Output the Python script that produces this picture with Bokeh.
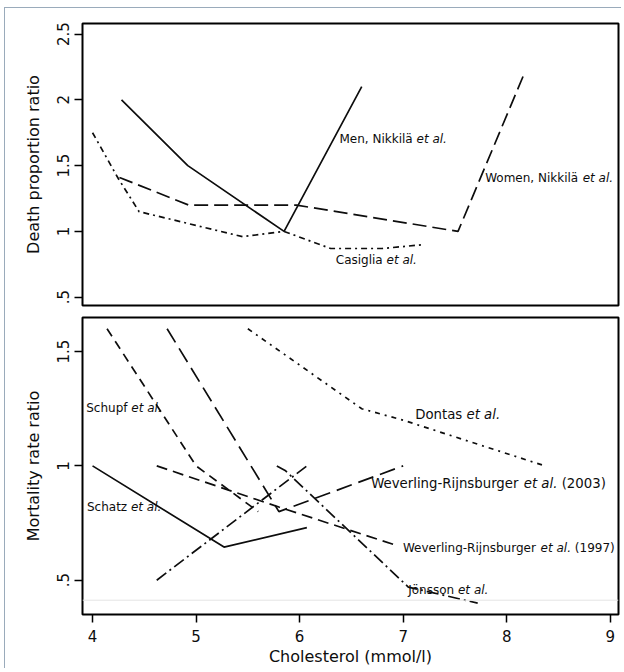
from bokeh.plotting import figure
from bokeh.layouts import column
from bokeh.models import Span, FixedTicker, ColumnDataSource
from bokeh.core.properties import value
from bokeh.embed import file_html
from bokeh.resources import INLINE

# ---------------- data ----------------
x_ticks = [4, 5, 6, 7, 8, 9]
top_y_ticks = [0.5, 1, 1.5, 2, 2.5]
top_y_labels = [".5", "1", "1.5", "2", "2.5"]
bot_y_ticks = [0.5, 1, 1.5]
bot_y_labels = [".5", "1", "1.5"]

men_x = [4.28, 4.92, 5.85, 6.6]
men_y = [2.0, 1.5, 1.0, 2.1]
women_x = [4.26, 4.93, 5.97, 7.53, 8.17]
women_y = [1.41, 1.2, 1.2, 1.0, 2.2]
casiglia_x = [4.0, 4.25, 4.45, 5.45, 5.85, 6.3, 6.8, 7.2]
casiglia_y = [1.75, 1.4, 1.15, 0.96, 1.0, 0.87, 0.87, 0.9]

schatz_x = [4.0, 5.27, 6.07]
schatz_y = [1.0, 0.645, 0.73]
schupf_x = [4.14, 5.0, 5.6]
schupf_y = [1.6, 1.0, 0.8]
wr2003_x = [4.72, 5.8, 7.0]
wr2003_y = [1.6, 0.8, 1.0]
wr1997_x = [4.62, 5.8, 6.95]
wr1997_y = [1.0, 0.82, 0.65]
rising_x = [4.62, 6.07]
rising_y = [0.5, 1.0]
jonsson_x = [5.78, 5.86, 7.05, 7.72]
jonsson_y = [1.0, 0.98, 0.47, 0.40]
dontas_x = [5.5, 6.6, 7.0, 8.37]
dontas_y = [1.6, 1.25, 1.2, 1.0]
ref_line_y = 0.4125

# labels: (normal text, italic text, trailing text, x, y, font px)
top_labels = [
    ("Men, Nikkilä ", "et al.", "", 6.385, 1.704, 12),
    ("Women, Nikkilä ", "et al.", "", 7.792, 1.405, 12),
    ("Casiglia ", "et al.", "", 6.349, 0.780, 12),
]
bot_labels = [
    ("Schupf ", "et al.", "", 3.939, 1.251, 12),
    ("Schatz ", "et al.", "", 3.946, 0.818, 12),
    ("Dontas ", "et al.", "", 7.116, 1.226, 13.3),
    ("Weverling-Rijnsburger ", "et al.", " (2003)", 6.691, 0.923, 13.3),
    ("Weverling-Rijnsburger ", "et al.", " (1997)", 6.998, 0.639, 12),
    ("Jönsson ", "et al.", "", 7.049, 0.456, 12),
]

# DejaVu Sans advance widths (em)
W = {' ': .318, ',': .318, '.': .318, '-': .361, '(': .390, ')': .390,
     'a': .613, 'b': .635, 'c': .550, 'e': .615, 'f': .352, 'g': .635, 'h': .634,
     'i': .278, 'j': .278, 'k': .579, 'l': .278, 'm': .974, 'n': .634, 'o': .612,
     'p': .635, 'r': .411, 's': .521, 't': .392, 'u': .634, 'v': .592, 'w': .818,
     'z': .525, 'C': .698, 'D': .770, 'J': .295, 'M': .863, 'N': .748, 'R': .695,
     'S': .635, 'W': .989, 'ä': .613, 'ö': .612}


def tw(s, size):
    return sum(W.get(ch, .636) for ch in s) * size


FONT = "DejaVu Sans"
INK = "#0d0d0d"


def style(p, yticks, ylabels, ylabel):
    p.outline_line_color = "black"
    p.outline_line_width = 2
    p.xgrid.visible = False
    p.ygrid.visible = False
    p.background_fill_color = "white"
    p.border_fill_color = None
    ax = p.yaxis[0]
    ax.ticker = FixedTicker(ticks=yticks)
    ax.major_label_overrides = {t: l for t, l in zip(yticks, ylabels)}
    ax.axis_line_color = None
    ax.major_tick_in = 0
    ax.major_tick_out = 8
    ax.major_tick_line_width = 1.5
    ax.minor_tick_line_color = None
    ax.major_label_orientation = "vertical"
    ax.major_label_text_font = FONT
    ax.major_label_text_font_size = "15px"
    ax.major_label_text_color = INK
    ax.major_label_standoff = 5
    ax.axis_label = ylabel
    ax.axis_label_text_font = FONT
    ax.axis_label_text_font_size = "16px"
    ax.axis_label_text_font_style = "normal"
    ax.axis_label_text_color = INK
    ax.axis_label_standoff = 12


def add_labels(p, labels):
    xs, ys, txt, offs, sizes, styles = [], [], [], [], [], []
    for a, b, c, x, y, fs in labels:
        parts = [(a, "normal"), (b, "italic"), (c, "normal")]
        off = 0.0
        for s, st in parts:
            if not s:
                continue
            lead = len(s) - len(s.lstrip(" "))
            off += tw(" " * lead, fs)
            core = s.strip(" ")
            xs.append(x); ys.append(y); txt.append(core); offs.append(off)
            sizes.append(f"{fs}px"); styles.append(st)
            off += tw(s.lstrip(" "), fs)
    src = ColumnDataSource(dict(x=xs, y=ys, text=txt, xo=offs, fs=sizes, st=styles))
    p.text("x", "y", text="text", x_offset="xo", source=src, text_font=value(FONT),
           text_font_size="fs", text_font_style="st", text_align="left",
           text_baseline="middle", text_color=INK)


XR = (3.903, 9.08)

p1 = figure(width=621, height=310, x_range=XR, y_range=(0.437, 2.58),
            output_backend="svg", toolbar_location=None,
            min_border_left=82, min_border_right=3, min_border_top=23, min_border_bottom=5,
            x_axis_location=None)
style(p1, top_y_ticks, top_y_labels, "Death proportion ratio")
p1.line(men_x, men_y, line_color=INK, line_width=1.7)
p1.line(women_x, women_y, line_color=INK, line_width=1.7, line_dash="14 6")
p1.line(casiglia_x, casiglia_y, line_color=INK, line_width=1.7, line_dash="6 4 2 4")
add_labels(p1, top_labels)

p2 = figure(width=621, height=358, x_range=XR, y_range=(0.350, 1.649),
            output_backend="svg", toolbar_location=None,
            min_border_left=82, min_border_right=3, min_border_top=7, min_border_bottom=5)
style(p2, bot_y_ticks, bot_y_labels, "Mortality rate ratio")
xa = p2.xaxis[0]
xa.ticker = FixedTicker(ticks=x_ticks)
xa.axis_line_color = None
xa.major_tick_in = 0
xa.major_tick_out = 8
xa.major_tick_line_width = 1.5
xa.minor_tick_line_color = None
xa.major_label_text_font = FONT
xa.major_label_text_font_size = "15px"
xa.major_label_text_color = INK
xa.major_label_standoff = 7
xa.axis_label = "Cholesterol (mmol/l)"
xa.axis_label_text_font = FONT
xa.axis_label_text_font_size = "16px"
xa.axis_label_text_font_style = "normal"
xa.axis_label_text_color = INK
xa.axis_label_standoff = 2

p2.add_layout(Span(location=ref_line_y, dimension="width", line_color="#e4e4e4", line_width=1))
p2.line(schatz_x, schatz_y, line_color=INK, line_width=1.7)
p2.line(schupf_x, schupf_y, line_color=INK, line_width=1.7, line_dash="9 6")
p2.line(wr2003_x, wr2003_y, line_color=INK, line_width=1.7, line_dash="16 7")
p2.line(wr1997_x, wr1997_y, line_color=INK, line_width=1.7, line_dash="11 6")
p2.line(rising_x, rising_y, line_color=INK, line_width=1.7, line_dash="12 4 2 4")
p2.line(jonsson_x, jonsson_y, line_color=INK, line_width=1.7, line_dash="12 4 2 4")
p2.line(dontas_x, dontas_y, line_color=INK, line_width=1.7, line_dash="5 5 2 5")
add_labels(p2, bot_labels)

frame_bg = ("linear-gradient(#9aabbb,#9aabbb) 4px 7px / 1px 100% no-repeat, "
            "linear-gradient(#9aabbb,#9aabbb) 4px 7px / 100% 1px no-repeat, white")
layout = column(p1, p2, spacing=0, styles={"background": frame_bg})
open("out.html", "w").write(file_html(layout, INLINE))
